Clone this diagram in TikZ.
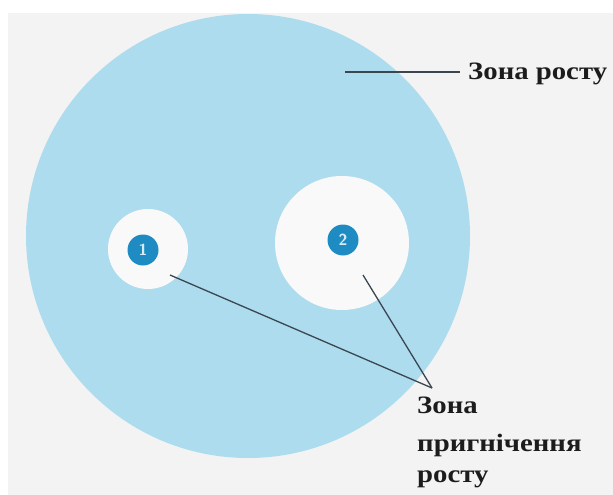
\documentclass[tikz,border=0pt]{standalone}
\usepackage{fontspec}
\setmainfont{Liberation Serif}
\definecolor{bgc}{HTML}{F3F3F3}
\definecolor{dish}{HTML}{ADDCEE}
\definecolor{halo}{HTML}{FAF9F9}
\definecolor{dotc}{HTML}{1E8CC2}
\definecolor{linec}{HTML}{3A4650}
\definecolor{txt}{HTML}{1C1C1C}
\tikzset{
  lbl/.style={font=\fontsize{25}{25}\selectfont\bfseries, text=txt, inner sep=0pt, anchor=base west},
  disc/.style={circle, fill=dotc, minimum size=31pt, inner sep=0pt, text=dish!50!white, font=\fontsize{16}{16}\selectfont\sffamily\bfseries},
  ptr/.style={draw=linec, line width=1.3pt}
}
\begin{document}
\begin{tikzpicture}[x=1pt,y=-1pt]
\fill[white] (0,0) rectangle (613,495);
\fill[bgc] (8,13) rectangle (613,495);
\useasboundingbox (0,0) rectangle (613,495);
\fill[dish] (248,236) circle (222);
\fill[halo] (148,249) circle (40);
\fill[halo] (342,243) circle (67);
\node[disc] (d1) at (143,250) {1};
\node[disc] (d2) at (343,240) {2};
\node[lbl] (z1) at (468,79) {\scalebox{1.15}[1]{Зона росту}};
\node[lbl] (z2) at (417,413) {\scalebox{1.15}[1]{Зона}};
\node[lbl] (z3) at (417,451) {\scalebox{1.15}[1]{пригнічення}};
\node[lbl] (z4) at (417,482) {\scalebox{1.15}[1]{росту}};
\coordinate (c0) at (345,72);
\coordinate (c1) at (460,72);
\coordinate (p1) at (170,275);
\coordinate (p2) at (363,275);
\coordinate (m) at (432,388);
\draw[ptr] (c0) -- (c1);
\draw[ptr] (p1) -- (m);
\draw[ptr] (p2) -- (m);
\end{tikzpicture}
\end{document}
